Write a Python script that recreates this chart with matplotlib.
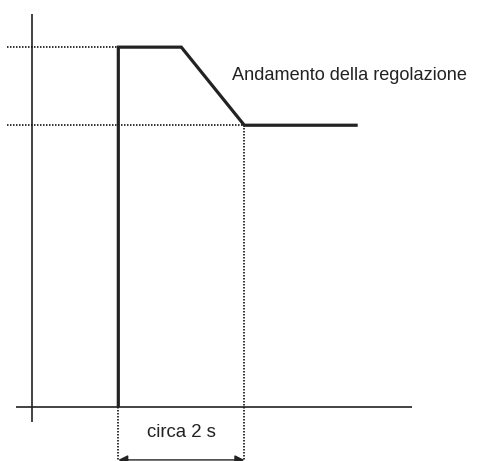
import matplotlib
matplotlib.use("Agg")
import matplotlib.pyplot as plt

# Time (s) and level of the regulation curve
t_signal = [1.37, 1.37, 2.37, 3.37, 5.17]
y_signal = [0.0, 1.0, 1.0, 0.783, 0.783]
high_level = 1.0
low_level = 0.783
t_start = 1.37
t_end = 3.37
label_curve = "Andamento della regolazione"
label_time = "circa 2 s"

fig = plt.figure(figsize=(4.81, 4.61), dpi=100)
ax = fig.add_axes([0, 0, 1, 1])
ax.set_xlim(-0.508, 7.127)
ax.set_ylim(-0.150, 1.131)
ax.axis("off")

# axes
ax.plot([-0.254, 6.03], [0, 0], color="#222222", lw=1.2, solid_capstyle="butt")
ax.plot([0, 0], [-0.042, 1.092], color="#222222", lw=1.2, solid_capstyle="butt")

# dotted guides
dot = dict(color="#111111", lw=1.2, linestyle=(0, (0.9, 0.9)))
ax.plot([-0.40, t_start], [high_level, high_level], **dot)
ax.plot([-0.40, t_end], [low_level, low_level], **dot)
ax.plot([t_start, t_start], [0, -0.150], **dot)
ax.plot([t_end, t_end], [low_level, -0.150], **dot)

# signal
ax.plot(t_signal, y_signal, color="#222222", lw=2.3, solid_joinstyle="miter",
        solid_capstyle="butt")

ax.text(3.17, 0.920, label_curve, fontsize=13.1, family="Liberation Sans",
        color="#222222", ha="left", va="center")
ax.text((t_start + t_end) / 2, -0.072, label_time, fontsize=13.4,
        family="Liberation Sans", color="#222222", ha="center", va="center")

ax.annotate("", xy=(t_start, -0.147), xytext=(t_end, -0.147),
            arrowprops=dict(arrowstyle="<|-|>", color="#222222", lw=1.0,
                            mutation_scale=14, shrinkA=0, shrinkB=0))

fig.savefig("out.png", dpi=100)
